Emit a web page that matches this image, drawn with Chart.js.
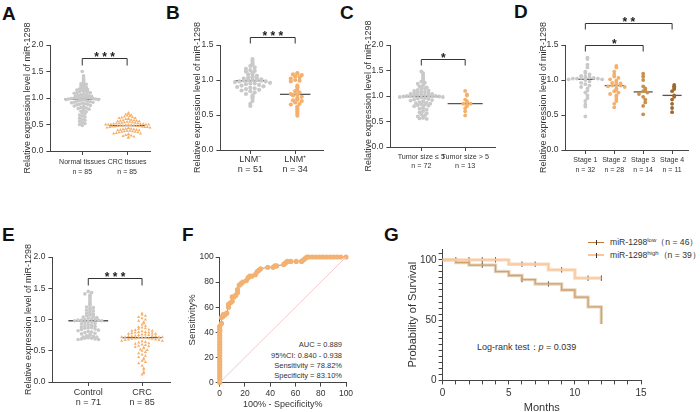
<!DOCTYPE html>
<html>
<head>
<meta charset="utf-8">
<script src="https://cdn.jsdelivr.net/npm/chart.js@4.4.1/dist/chart.umd.min.js"></script>
<style>
  html, body { margin: 0; padding: 0; background: #fff; }
  body { width: 700px; height: 412px; position: relative; overflow: hidden;
         font-family: 'Liberation Sans', Arial, sans-serif; color: #222; }
  canvas { position: absolute; }
  .letter { position: absolute; font-weight: bold; font-size: 19px; line-height: 19px; color: #111; }
  .txt { position: absolute; white-space: nowrap; line-height: 1; transform: translateY(-50%); color: #333; }
  .txt sup { font-size: 6px; vertical-align: 0; position: relative; top: -3.5px; }
  .lg { position: absolute; }
</style>
</head>
<body>
<div class="letter" style="left:2px;top:4px">A</div>
<div class="letter" style="left:166px;top:3px">B</div>
<div class="letter" style="left:340px;top:3px">C</div>
<div class="letter" style="left:514px;top:2px">D</div>
<div class="letter" style="left:2px;top:225px">E</div>
<div class="letter" style="left:182px;top:225px">F</div>
<div class="letter" style="left:384px;top:225px">G</div>

<!-- F annotations -->
<div class="txt" style="right:358px;top:345px;font-size:7.5px">AUC = 0.889</div>
<div class="txt" style="right:358px;top:355.5px;font-size:7.5px">95%CI: 0.840 - 0.938</div>
<div class="txt" style="right:358px;top:366px;font-size:7.5px">Sensitivity = 78.82%</div>
<div class="txt" style="right:358px;top:376px;font-size:7.5px">Specificity = 83.10%</div>

<!-- G legend and test -->
<div class="lg" style="left:588px;top:241.5px;width:16px;border-top:1.3px solid #c97a2c"></div>
<div class="lg" style="left:596px;top:239.5px;width:1px;height:5px;background:#333"></div>
<div class="txt" style="left:610px;top:242px;font-size:8.6px">miR-1298<sup>low</sup>（n = 46）</div>
<div class="lg" style="left:588px;top:253.8px;width:16px;border-top:2.6px solid #f8c59a"></div>
<div class="lg" style="left:596px;top:252.5px;width:1px;height:5px;background:#333"></div>
<div class="txt" style="left:610px;top:255px;font-size:8.6px">miR-1298<sup>high</sup>（n = 39）</div>
<div class="txt" style="left:477px;top:347px;font-size:9px">Log-rank test：<i>p</i> = 0.039</div>

<script>
// ---- data ----
const normalTissues = [1.50,1.42,1.38,1.35,1.33,1.31,1.29,1.27,1.26,1.24,
  1.23,1.22,1.20,1.19,1.18,1.17,1.16,1.15,1.14,1.13,
  1.12,1.11,1.10,1.10,1.09,1.08,1.07,1.06,1.06,1.05,
  1.04,1.04,1.03,1.02,1.02,1.01,1.01,1.00,1.00,1.00,
  0.99,0.99,0.98,0.98,0.97,0.97,0.96,0.96,0.95,0.94,
  0.94,0.93,0.92,0.92,0.91,0.90,0.89,0.88,0.88,0.87,
  0.86,0.85,0.84,0.83,0.82,0.81,0.80,0.79,0.78,0.77,
  0.75,0.74,0.72,0.70,0.68,0.66,0.64,0.62,0.60,0.58,
  0.56,0.54,0.52,0.50,0.48];
const crcTissues = [0.72,0.70,0.69,0.68,0.67,0.66,0.65,0.64,0.63,0.62,
  0.62,0.61,0.60,0.60,0.59,0.58,0.58,0.57,0.57,0.56,
  0.56,0.55,0.55,0.54,0.54,0.53,0.53,0.52,0.52,0.52,
  0.51,0.51,0.51,0.50,0.50,0.50,0.50,0.50,0.49,0.49,
  0.49,0.49,0.48,0.48,0.48,0.47,0.47,0.47,0.46,0.46,
  0.46,0.45,0.45,0.45,0.44,0.44,0.43,0.43,0.42,0.42,
  0.41,0.41,0.40,0.40,0.39,0.39,0.38,0.38,0.37,0.37,
  0.36,0.36,0.35,0.35,0.34,0.33,0.33,0.32,0.31,0.30,
  0.29,0.28,0.27,0.26,0.25];
const tissueLabels = [['Normal tissues', 'n = 85'], ['CRC tissues', 'n = 85']];

const lnmNeg = [1.30,1.27,1.24,1.22,1.20,1.18,1.16,1.14,1.13,1.12,
  1.10,1.09,1.08,1.06,1.05,1.04,1.03,1.02,1.02,1.01,
  1.00,1.00,1.00,1.00,0.99,0.99,0.98,0.98,0.97,0.96,
  0.95,0.95,0.94,0.93,0.92,0.91,0.90,0.89,0.88,0.87,
  0.86,0.85,0.84,0.82,0.80,0.78,0.76,0.74,0.70,0.66,
  0.63];
const lnmPos = [1.10,1.09,1.08,1.07,1.05,1.04,1.02,1.00,0.99,0.98,
  0.92,0.90,0.89,0.86,0.84,0.82,0.80,0.79,0.79,0.78,
  0.76,0.74,0.72,0.71,0.70,0.68,0.66,0.65,0.62,0.60,
  0.58,0.55,0.52,0.49];
const lnmLabels = [['LNM⁻', 'n = 51'], ['LNM⁺', 'n = 34']];

const sizeSmall = [1.48,1.45,1.42,1.38,1.35,1.32,1.30,1.28,1.26,1.24,
  1.22,1.20,1.19,1.17,1.15,1.14,1.12,1.11,1.10,1.09,
  1.08,1.07,1.06,1.05,1.04,1.04,1.03,1.02,1.02,1.01,
  1.01,1.00,1.00,1.00,1.00,0.99,0.99,0.98,0.98,0.97,
  0.96,0.95,0.94,0.93,0.92,0.91,0.90,0.89,0.88,0.87,
  0.86,0.85,0.84,0.83,0.82,0.81,0.80,0.78,0.76,0.75,
  0.73,0.71,0.70,0.68,0.66,0.64,0.62,0.60,0.59,0.57,
  0.56,0.55];
const sizeLarge = [1.10,1.03,1.01,0.93,0.90,0.88,0.85,0.85,0.83,0.80,0.76,0.70,0.62];
const sizeLabels = [['Tumor size ≤ 5', 'n = 72'], ['Tumor size > 5', 'n = 13']];

const stage1 = [1.32,1.30,1.22,1.18,1.12,1.10,1.08,1.06,1.05,1.04,
  1.03,1.03,1.02,1.02,1.02,1.01,1.01,1.00,0.98,0.96,
  0.94,0.92,0.90,0.88,0.85,0.82,0.78,0.74,0.70,0.65,
  0.62,0.48];
const stage2 = [1.20,1.18,1.12,1.08,1.05,1.03,1.01,0.99,0.97,0.96,
  0.95,0.94,0.93,0.92,0.92,0.91,0.90,0.88,0.86,0.84,
  0.82,0.80,0.78,0.76,0.73,0.70,0.66,0.61];
const stage3 = [1.09,1.05,1.00,0.91,0.88,0.86,0.84,0.82,0.80,0.76,0.72,0.68,0.63,0.51];
const stage4 = [0.93,0.91,0.89,0.87,0.84,0.78,0.76,0.72,0.66,0.60,0.54];
const stageLabels = [['Stage 1', 'n = 32'], ['Stage 2', 'n = 28'], ['Stage 3', 'n = 14'], ['Stage 4', 'n = 11']];

const controlSerum = [1.45,1.43,1.41,1.39,1.37,1.34,1.31,1.28,1.26,1.24,
  1.22,1.20,1.19,1.18,1.16,1.15,1.14,1.12,1.11,1.10,
  1.09,1.08,1.07,1.06,1.05,1.04,1.03,1.02,1.01,1.00,
  1.00,0.99,0.99,0.99,0.98,0.98,0.97,0.96,0.95,0.94,
  0.93,0.92,0.91,0.90,0.89,0.88,0.87,0.87,0.86,0.85,
  0.84,0.83,0.82,0.81,0.80,0.79,0.78,0.77,0.76,0.75,
  0.74,0.73,0.72,0.72,0.71,0.70,0.70,0.69,0.69,0.68,
  0.68];
const crcSerum = [1.10,1.08,1.06,1.04,1.02,1.00,0.98,0.96,0.94,0.92,
  0.90,0.88,0.87,0.86,0.85,0.84,0.83,0.82,0.82,0.81,
  0.80,0.80,0.79,0.79,0.78,0.78,0.77,0.77,0.76,0.76,
  0.75,0.75,0.74,0.74,0.73,0.73,0.73,0.72,0.72,0.72,
  0.72,0.71,0.71,0.71,0.70,0.70,0.69,0.69,0.68,0.68,
  0.67,0.67,0.66,0.66,0.65,0.64,0.63,0.62,0.61,0.60,
  0.59,0.58,0.57,0.56,0.55,0.54,0.52,0.51,0.50,0.48,
  0.46,0.44,0.42,0.40,0.38,0.36,0.34,0.32,0.30,0.26,
  0.22,0.20,0.16,0.14,0.12];
const serumLabels = [['Control', 'n = 71'], ['CRC', 'n = 85']];

// ROC: 100% - specificity vs sensitivity
const rocFpr = [0,0,0,0,0,0,0,0,0,0, 0,0,0,0,0,0,0,0,0,0, 0,
  1.4,1.4,2.8,2.8,4.2,5.6,7.0,7.0,8.5,9.9,
  9.9,11.3,12.7,14.1,14.1,15.5,16.9,18.3,21.1,22.5,
  23.9,25.4,28.2,29.6,31.0,32.4,38.0,42.3,43.7,45.1,
  50.7,52.1,53.5,56.3,60.6,64.8,66.2,67.6,69.0,70.4,
  73.2,76.1,78.9,81.7,84.5,87.3,90.1,93.0,95.8,100];
const rocTpr = [0,2.4,4.7,7.1,9.4,11.8,14.1,16.5,18.8,21.2, 23.5,25.9,28.2,30.6,32.9,35.3,37.6,40.0,41.2,42.4, 44.7,
  47.1,51.8,52.9,54.1,54.1,55.3,60.0,62.4,63.5,64.7,
  68.2,68.2,69.4,71.8,74.1,77.6,78.8,80.0,81.2,83.5,
  84.7,84.7,85.9,88.2,89.4,90.6,91.8,91.8,92.9,92.9,
  94.1,95.3,96.5,96.5,96.5,96.5,97.6,98.8,100,100,
  100,100,100,100,100,100,100,100,100,100];

// Kaplan-Meier
const lowMonths = [0, 1, 2, 4, 5, 6, 7, 9, 10, 11, 12];
const lowSurvival = [100, 97.8, 95.6, 90.3, 87.0, 83.6, 80.0, 75.0, 69.0, 61.0, 46.7];
const lowCensored = [3, 6, 8];
const highMonths = [0, 5, 8, 10, 12];
const highSurvival = [100, 96.4, 91.7, 84.8, 84.8];
const highCensored = [1, 2, 3, 4, 6, 7, 9, 11, 12];

// ---- setup ----
const FONT = "'Liberation Sans', Arial, sans-serif";
Chart.defaults.font.family = FONT;
Chart.defaults.color = '#333';
Chart.defaults.animation = false;
Chart.defaults.plugins.legend.display = false;
Chart.defaults.plugins.tooltip.enabled = false;

const AXIS = '#444';

// significance brackets drawn on top of the plot
Chart.register({
  id: 'brackets',
  afterDatasetsDraw(chart, args, opts) {
    const items = opts.items || [];
    const { ctx, scales: { x, y } } = chart;
    ctx.save();
    ctx.strokeStyle = '#333';
    ctx.lineWidth = 1;
    ctx.fillStyle = '#222';
    ctx.font = 'bold 12px ' + FONT;
    ctx.textAlign = 'center';
    ctx.textBaseline = 'alphabetic';
    items.forEach(b => {
      const x1 = x.getPixelForValue(b.from), x2 = x.getPixelForValue(b.to);
      const yy = Math.round(y.getPixelForValue(b.level)) + 0.5;
      ctx.beginPath();
      ctx.moveTo(x1, yy + b.drop);
      ctx.lineTo(x1, yy);
      ctx.lineTo(x2, yy);
      ctx.lineTo(x2, yy + b.drop);
      ctx.stroke();
      const n = b.label.length, mid = (x1 + x2) / 2;
      for (let i = 0; i < n; i++) {
        ctx.fillText(b.label[i], mid + (i - (n - 1) / 2) * 8, yy + 2);
      }
    });
    ctx.restore();
  }
});

function median(arr) {
  const s = arr.slice().sort((a, b) => a - b);
  const m = Math.floor(s.length / 2);
  return s.length % 2 ? s[m] : (s[m - 1] + s[m]) / 2;
}

// spread points sideways within rows of similar value
function swarm(values, cx, binH, dx) {
  const bins = {};
  values.forEach(v => {
    const k = Math.round(v / binH);
    (bins[k] = bins[k] || []).push(v);
  });
  const pts = [];
  Object.values(bins).forEach(list => {
    const n = list.length;
    list.forEach((v, i) => {
      // centre-out order: 0, +1, -1, +2, -2 ...
      const slot = i % 2 ? (i + 1) / 2 : -i / 2;
      const off = n % 2 ? slot : slot + (i % 2 ? -0.5 : 0.5);
      pts.push({ x: cx + off * dx, y: v });
    });
  });
  return pts;
}

function makeChart(area, pad, config) {
  const c = document.createElement('canvas');
  const left = area.l - pad.wy, top = area.t - pad.pt;
  const w = Math.round(area.r + pad.pr - left), h = Math.round(area.b + pad.hx - top);
  c.width = w; c.height = h;
  c.style.left = left + 'px'; c.style.top = top + 'px';
  c.style.width = w + 'px'; c.style.height = h + 'px';
  document.body.appendChild(c);
  config.options.responsive = false;
  config.options.layout = { padding: { top: pad.pt, right: pad.pr, left: 0, bottom: 0 } };
  config.options.scales.x.afterFit = s => { s.height = pad.hx; };
  config.options.scales.y.afterFit = s => { s.width = pad.wy; };
  return new Chart(c, config);
}

function dotChart(p) {
  const pxY = (p.area.b - p.area.t) / p.ymax;
  const pxX = (p.area.r - p.area.l) / (p.xmax - p.xmin);
  const datasets = [];
  p.groups.forEach((g, i) => {
    datasets.push({
      type: 'scatter',
      data: swarm(g.values, i + 1, p.rowPx / pxY, p.colPx / pxX),
      pointStyle: g.style || 'circle',
      pointRadius: p.radius,
      pointBackgroundColor: g.color,
      pointBorderWidth: 0,
      clip: false
    });
  });
  p.groups.forEach((g, i) => {
    const m = median(g.values);
    datasets.push({
      type: 'line',
      data: [{ x: i + 1 - p.medHalf, y: m }, { x: i + 1 + p.medHalf, y: m }],
      borderColor: '#555', borderWidth: 1.3, pointRadius: 0, clip: false
    });
  });
  return makeChart(p.area, p.pad, {
    type: 'scatter',
    data: { datasets },
    options: {
      plugins: { brackets: { items: p.brackets } },
      scales: {
        x: {
          type: 'linear', min: p.xmin, max: p.xmax,
          afterBuildTicks: s => { s.ticks = p.cats.map((c, i) => ({ value: i + 1 })); },
          ticks: {
            callback: v => p.cats[Math.round(v) - 1],
            font: p.catFont, color: '#333', padding: p.catPad, maxRotation: 0, autoSkip: false
          },
          grid: { drawOnChartArea: false, tickLength: 4, color: AXIS },
          border: { color: AXIS, width: 1 }
        },
        y: {
          min: 0, max: p.ymax,
          ticks: { stepSize: 0.5, callback: v => v.toFixed(1), font: { size: 8.5 }, color: '#333', padding: 3 },
          grid: { drawOnChartArea: false, tickLength: 4, color: AXIS },
          border: { color: AXIS, width: 1 },
          title: { display: true, text: 'Relative expression level of miR-1298', font: { size: 9 }, color: '#333', padding: 0 }
        }
      }
    }
  });
}

const GREY = '#c9c9c9', ORANGE = '#f4b06c';

// A
dotChart({
  area: { l: 50, t: 45, r: 150, b: 151 }, pad: { wy: 28.4, pt: 30, pr: 10, hx: 32 },
  ymax: 2, xmin: 0.29, xmax: 2.51, cats: tissueLabels,
  catFont: { size: 7, lineHeight: 1.3 }, catPad: 3,
  groups: [{ values: normalTissues, color: GREY }, { values: crcTissues, color: ORANGE, style: 'triangle' }],
  rowPx: 3.1, colPx: 2.7, radius: 1.8, medHalf: 0.4,
  brackets: [{ from: 1, to: 2, level: 1.75, drop: 7, label: '***' }]
});
// B
dotChart({
  area: { l: 220, t: 45, r: 323, b: 150 }, pad: { wy: 28.4, pt: 30, pr: 10, hx: 32 },
  ymax: 1.5, xmin: 0.333, xmax: 2.62, cats: lnmLabels,
  catFont: { size: 9, lineHeight: 1.1 }, catPad: 1,
  groups: [{ values: lnmNeg, color: GREY }, { values: lnmPos, color: ORANGE }],
  rowPx: 3.6, colPx: 4.4, radius: 2.1, medHalf: 0.34,
  brackets: [{ from: 1, to: 2, level: 1.614, drop: 6, label: '***' }]
});
// C
dotChart({
  area: { l: 390, t: 45, r: 495, b: 147 }, pad: { wy: 27.4, pt: 30, pr: 10, hx: 32 },
  ymax: 2, xmin: 0.295, xmax: 2.68, cats: sizeLabels,
  catFont: { size: 7.2, lineHeight: 1.2 }, catPad: 2,
  groups: [{ values: sizeSmall, color: GREY }, { values: sizeLarge, color: ORANGE }],
  rowPx: 3.2, colPx: 3.6, radius: 1.9, medHalf: 0.4,
  brackets: [{ from: 1, to: 2, level: 1.725, drop: 6, label: '*' }]
});
// D
dotChart({
  area: { l: 565, t: 45, r: 688, b: 150 }, pad: { wy: 27.4, pt: 40, pr: 10, hx: 32 },
  ymax: 1.5, xmin: 0.31, xmax: 4.55, cats: stageLabels,
  catFont: { size: 7, lineHeight: 1.3 }, catPad: 2,
  groups: [{ values: stage1, color: GREY }, { values: stage2, color: ORANGE },
           { values: stage3, color: '#c8914c' }, { values: stage4, color: '#9c6a30' }],
  rowPx: 3.8, colPx: 4.2, radius: 1.9, medHalf: 0.33,
  brackets: [{ from: 1, to: 4, level: 1.814, drop: 6, label: '**' },
             { from: 1, to: 3, level: 1.5, drop: 6, label: '*' }]
});
// E
dotChart({
  area: { l: 52, t: 257, r: 170, b: 382 }, pad: { wy: 29.4, pt: 20, pr: 10, hx: 28 },
  ymax: 2, xmin: 0.333, xmax: 2.52, cats: serumLabels,
  catFont: { size: 9, lineHeight: 1.05 }, catPad: 2,
  groups: [{ values: controlSerum, color: GREY }, { values: crcSerum, color: ORANGE, style: 'triangle' }],
  rowPx: 3.3, colPx: 3.4, radius: 1.8, medHalf: 0.37,
  brackets: [{ from: 1, to: 2, level: 1.664, drop: 7, label: '***' }]
});

// F: ROC
makeChart({ l: 220, t: 257, r: 346, b: 383 }, { wy: 32.7, pt: 10, pr: 12, hx: 27.4 }, {
  type: 'scatter',
  data: {
    datasets: [
      { data: [{ x: 0, y: 0 }, { x: 100, y: 100 }], showLine: true, borderColor: '#f6c9c9',
        borderWidth: 1, pointRadius: 0 },
      { data: rocFpr.map((v, i) => ({ x: v, y: rocTpr[i] })), showLine: true, borderColor: '#9a9a9a',
        borderWidth: 1, pointRadius: 2.6, pointBackgroundColor: '#f3b172', pointBorderWidth: 0, clip: false }
    ]
  },
  options: {
    scales: {
      x: {
        type: 'linear', min: 0, max: 100,
        ticks: { stepSize: 20, font: { size: 8.5 }, color: '#333', padding: 2 },
        grid: { drawOnChartArea: false, tickLength: 4, color: AXIS },
        border: { color: AXIS },
        title: { display: true, text: '100% - Specificity%', font: { size: 9 }, color: '#333', padding: 0 }
      },
      y: {
        min: 0, max: 100,
        ticks: { stepSize: 20, font: { size: 8.5 }, color: '#333', padding: 2 },
        grid: { drawOnChartArea: false, tickLength: 4, color: AXIS },
        border: { color: AXIS },
        title: { display: true, text: 'Sensitivity%', font: { size: 9.5 }, color: '#333', padding: 0 }
      }
    }
  }
});

// G: Kaplan-Meier
function survAt(months, surv, t) {
  let s = surv[0];
  months.forEach((m, i) => { if (m <= t) s = surv[i]; });
  return s;
}
const lowPts = lowMonths.map((m, i) => ({ x: m, y: lowSurvival[i] }));
const highPts = highMonths.map((m, i) => ({ x: m, y: highSurvival[i] }));
const stepLine = (data, color, width) => ({
  type: 'line', data, stepped: true, borderColor: color, borderWidth: width, pointRadius: 0, fill: false, clip: false
});
const censorSet = (months, times, surv) => ({
  type: 'scatter', data: times.map(t => ({ x: t, y: survAt(months, surv, t) })),
  pointStyle: 'line', rotation: 90, pointRadius: 2.6, pointBorderColor: '#333', pointBorderWidth: 1, clip: false
});
makeChart({ l: 443, t: 249, r: 641, b: 380 }, { wy: 36.6, pt: 10, pr: 10, hx: 34.6 }, {
  type: 'line',
  data: {
    datasets: [
      stepLine(highPts, 'rgba(249,208,172,0.8)', 3.4),
      stepLine(highPts, '#f5ad6a', 1.3),
      stepLine(lowPts, 'rgba(214,186,150,0.6)', 3.4),
      stepLine(lowPts, '#c97a2c', 1.3),
      censorSet(highMonths, highCensored, highSurvival),
      censorSet(lowMonths, lowCensored, lowSurvival)
    ]
  },
  options: {
    scales: {
      x: {
        type: 'linear', min: 0, max: 15,
        afterBuildTicks: s => { s.ticks = Array.from({ length: 16 }, (_, i) => ({ value: i })); },
        ticks: { callback: v => (v % 5 === 0 ? v : ''), font: { size: 10 }, color: '#333', padding: 3, autoSkip: false, maxRotation: 0 },
        grid: { drawOnChartArea: false, tickLength: 4, color: AXIS },
        border: { color: AXIS },
        title: { display: true, text: 'Months', font: { size: 11 }, color: '#333', padding: 0 }
      },
      y: {
        type: 'linear', min: 0, max: 109,
        afterBuildTicks: s => { s.ticks = Array.from({ length: 22 }, (_, i) => ({ value: i * 5 })); },
        ticks: { callback: v => (v % 50 === 0 ? v : ''), font: { size: 10 }, color: '#333', padding: 2, autoSkip: false },
        grid: { drawOnChartArea: false, tickLength: 4, color: AXIS },
        border: { color: AXIS },
        title: { display: true, text: 'Probability of Survival', font: { size: 11 }, color: '#333', padding: 0 }
      }
    }
  }
});
</script>
</body>
</html>
